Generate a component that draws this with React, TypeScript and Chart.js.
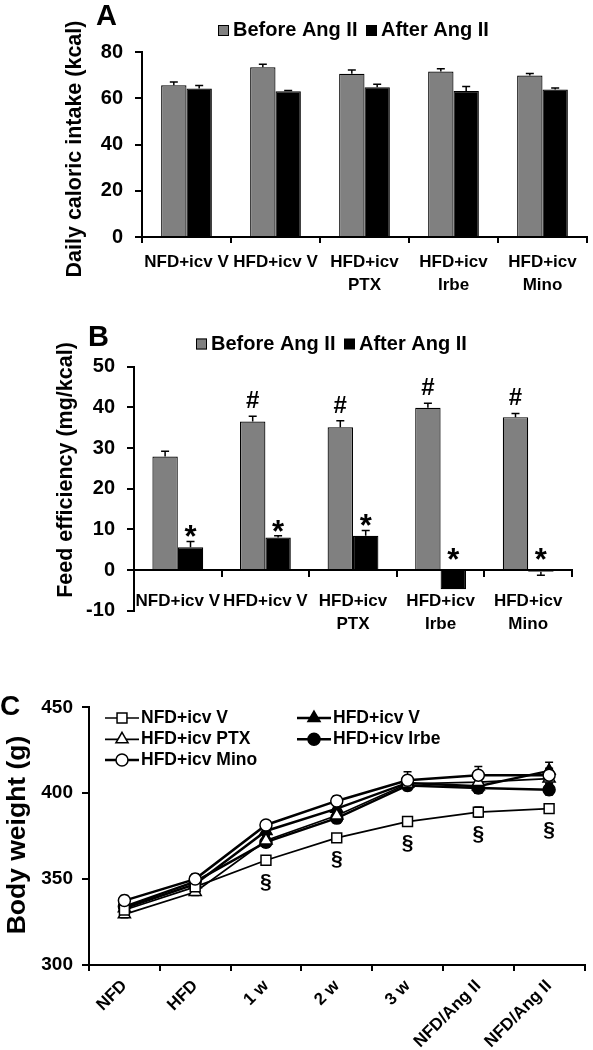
import React, { useEffect, useRef } from 'react';
import { Chart, registerables } from 'chart.js';

Chart.register(...registerables);

const FONT = "'Liberation Sans', Arial, Helvetica, sans-serif";
const GREY = '#808080';

// ---------- Panel A / B shared ----------
const groupLabels = ['NFD+icv V', 'HFD+icv V', ['HFD+icv', 'PTX'], ['HFD+icv', 'Irbe'], ['HFD+icv', 'Mino']];
const legendLabels = ['Before Ang II', 'After Ang II'];

// Panel A: daily caloric intake (kcal)
const intakeBefore = [65.6, 73.4, 70.6, 71.6, 69.8];
const intakeBeforeErr = [1.4, 1.3, 1.6, 1.2, 0.9];
const intakeAfter = [64.2, 63.0, 64.8, 63.1, 63.8];
const intakeAfterErr = [1.3, 0.4, 1.3, 2.0, 0.6];
const intakeTicks = [0, 20, 40, 60, 80];

// Panel B: feed efficiency (mg/kcal)
const effBefore = [27.9, 36.5, 35.1, 39.9, 37.6];
const effBeforeErr = [1.3, 1.3, 1.6, 1.1, 0.9];
const effAfter = [5.6, 8.0, 8.4, -4.7, -0.4];
const effAfterErr = [1.4, 0.4, 1.3, 0, 0.9];
const effBeforeMarks = ['', '#', '#', '#', '#'];
const effAfterMarks = ['*', '*', '*', '*', '*'];
const effTicks = [-10, 0, 10, 20, 30, 40, 50];

// Panel C: body weight (g)
const weekLabels = ['NFD', 'HFD', '1 w', '2 w', '3 w', 'NFD/Ang II', 'NFD/Ang II'];
const seriesNames = ['NFD+icv V', 'HFD+icv V', 'HFD+icv PTX', 'HFD+icv Irbe', 'HFD+icv Mino'];
const bwNfdV = [332, 345.5, 361, 374, 383.5, 389, 391];
const bwNfdVErr = [2, 2, 2, 2, 2, 3, 2.5];
const bwHfdV = [333, 347, 378, 391, 406, 404, 413];
const bwHfdVErr = [3, 3, 3, 3, 3, 4, 5];
const bwPtx = [329.5, 342.5, 372.5, 387, 405.5, 406.5, 408.5];
const bwPtxErr = [2, 2, 3, 3, 3, 3, 3];
const bwIrbe = [334, 348.5, 371.5, 385.5, 404.5, 403, 402];
const bwIrbeErr = [3, 3, 3, 3, 3, 3, 3];
const bwMino = [337.5, 350, 381.5, 395.5, 407.5, 410.5, 410.5];
const bwMinoErr = [3, 3, 2, 3, 5, 5, 4];
const bwSectionMarks = ['', '', '§', '§', '§', '§', '§'];
const bwTicks = [300, 350, 400, 450];

function drawErrorBars(chart: any, errs: number[][], both: boolean, cap: number) {
  const ctx = chart.ctx;
  const ys = chart.scales.y;
  ctx.save();
  ctx.strokeStyle = '#000';
  ctx.lineWidth = 1.5;
  chart.data.datasets.forEach((ds: any, i: number) => {
    const e = errs[i];
    if (!e) return;
    const meta = chart.getDatasetMeta(i);
    meta.data.forEach((el: any, j: number) => {
      const v = ds.data[j] as number;
      const err = e[j];
      if (!err) return;
      const ends = both ? [v + err, v - err] : [v >= 0 ? v + err : v - err];
      const py = ys.getPixelForValue(v);
      ends.forEach((end) => {
        const pe = ys.getPixelForValue(end);
        ctx.beginPath();
        ctx.moveTo(el.x, py);
        ctx.lineTo(el.x, pe);
        ctx.moveTo(el.x - cap / 2, pe);
        ctx.lineTo(el.x + cap / 2, pe);
        ctx.stroke();
      });
    });
  });
  ctx.restore();
}

function txt(ctx: any, s: string, x: number, y: number, size: number, align = 'left', baseline = 'middle', rot = 0) {
  ctx.save();
  ctx.font = `bold ${size}px ${FONT}`;
  ctx.fillStyle = '#000';
  ctx.textAlign = align;
  ctx.textBaseline = baseline;
  ctx.translate(x, y);
  if (rot) ctx.rotate(rot);
  ctx.fillText(s, 0, 0);
  ctx.restore();
}

function barLegend(ctx: any, x: number, y: number) {
  ctx.save();
  ctx.lineWidth = 1;
  ctx.strokeStyle = '#000';
  ctx.fillStyle = GREY;
  ctx.fillRect(x, y - 5.5, 11, 11);
  ctx.strokeRect(x + 0.5, y - 5, 10, 10);
  ctx.restore();
  txt(ctx, legendLabels[0], x + 15, y, 20);
  ctx.save();
  ctx.fillStyle = '#000';
  ctx.fillRect(x + 148, y - 5.5, 11, 11);
  ctx.restore();
  txt(ctx, legendLabels[1], x + 163, y, 20);
}

function axisCommon(tickFont: number, tickLength: number, padding: number) {
  return {
    grid: { drawOnChartArea: false, drawTicks: true, tickLength, color: '#000', lineWidth: 2 },
    border: { display: true, color: '#000', width: 2 },
    ticks: { color: '#000', font: { size: tickFont, weight: 'bold', family: FONT }, padding },
  };
}

function xCategory(tickFont: number, padding: number, height: number, extra: any = {}) {
  const base: any = axisCommon(tickFont, 6, padding);
  return {
    ...base,
    offset: true,
    grid: { ...base.grid, offset: true },
    ticks: { ...base.ticks, autoSkip: false, maxRotation: 0, font: { ...base.ticks.font, lineHeight: 1.35 } },
    afterFit: (s: any) => { s.height = height; },
    ...extra,
  };
}

function yLinear(min: number, max: number, step: number, ticks: number[], width: number, fontSize: number, padding: number) {
  const base: any = axisCommon(fontSize, 7, padding);
  return {
    ...base,
    min, max,
    ticks: { ...base.ticks, stepSize: step, callback: (v: number) => (ticks.includes(v) ? String(v) : '') },
    afterFit: (s: any) => { s.width = width; },
  };
}

function makeA(canvas: HTMLCanvasElement) {
  return new Chart(canvas, {
    type: 'bar',
    data: {
      labels: groupLabels as any,
      datasets: [
        { label: legendLabels[0], data: intakeBefore, backgroundColor: GREY, borderColor: '#000', borderWidth: 1.2, categoryPercentage: 0.57, barPercentage: 1 },
        { label: legendLabels[1], data: intakeAfter, backgroundColor: '#000', borderColor: '#000', borderWidth: 1.2, categoryPercentage: 0.57, barPercentage: 1 },
      ],
    },
    options: {
      responsive: false,
      animation: false,
      devicePixelRatio: 1,
      layout: { padding: { top: 52, right: 6, left: 0, bottom: 0 } },
      plugins: { legend: { display: false }, tooltip: { enabled: false } },
      scales: {
        x: xCategory(17, 8, 63) as any,
        y: yLinear(0, 80, 20, intakeTicks, 142, 20, 12) as any,
      },
    },
    plugins: [{
      id: 'decoA',
      afterDatasetsDraw(chart: any) {
        drawErrorBars(chart, [intakeBeforeErr, intakeAfterErr], false, 8);
      },
      afterDraw(chart: any) {
        const ctx = chart.ctx;
        txt(ctx, 'A', 96, 24.5, 29, 'left', 'alphabetic');
        barLegend(ctx, 218, 30.5);
        txt(ctx, 'Daily caloric intake (kcal)', 75, 149, 21.5, 'center', 'middle', -Math.PI / 2);
      },
    }],
  } as any);
}

function makeB(canvas: HTMLCanvasElement) {
  return new Chart(canvas, {
    type: 'bar',
    data: {
      labels: groupLabels as any,
      datasets: [
        { label: legendLabels[0], data: effBefore, backgroundColor: GREY, borderColor: '#000', borderWidth: 1.2, categoryPercentage: 0.58, barPercentage: 1 },
        { label: legendLabels[1], data: effAfter, backgroundColor: '#000', borderColor: '#000', borderWidth: 1.2, categoryPercentage: 0.58, barPercentage: 1 },
      ],
    },
    options: {
      responsive: false,
      animation: false,
      devicePixelRatio: 1,
      layout: { padding: { top: 66.7, right: 21, left: 0, bottom: 34.3 } },
      plugins: { legend: { display: false }, tooltip: { enabled: false } },
      scales: {
        x: xCategory(17, 14, 60, { position: { y: 0 } }) as any,
        y: yLinear(-10, 50, 10, effTicks, 134, 20, 12) as any,
      },
    },
    plugins: [{
      id: 'decoB',
      afterDatasetsDraw(chart: any) {
        drawErrorBars(chart, [effBeforeErr, effAfterErr], false, 8);
      },
      afterDraw(chart: any) {
        const ctx = chart.ctx;
        const ys = chart.scales.y;
        const m0 = chart.getDatasetMeta(0);
        const m1 = chart.getDatasetMeta(1);
        effBeforeMarks.forEach((m, j) => {
          if (!m) return;
          const top = ys.getPixelForValue(effBefore[j] + effBeforeErr[j]);
          txt(ctx, m, m0.data[j].x, top - 8, 24, 'center', 'alphabetic');
        });
        effAfterMarks.forEach((m, j) => {
          if (!m) return;
          const v = effAfter[j];
          const center = v > 0 ? ys.getPixelForValue(v + effAfterErr[j]) - 11.5 : ys.getPixelForValue(0) - 17;
          txt(ctx, m, m1.data[j].x, center + 0.56 * 31, 31, 'center', 'alphabetic');
        });
        txt(ctx, 'B', 88, 45.5, 29, 'left', 'alphabetic');
        barLegend(ctx, 196, 44);
        txt(ctx, 'Feed efficiency (mg/kcal)', 66, 170, 21.5, 'center', 'middle', -Math.PI / 2);
      },
    }],
  } as any);
}

const lineStyles = [
  { name: seriesNames[4], data: bwMino, err: bwMinoErr, style: 'circle', radius: 6, fill: '#fff', width: 2.5 },
  { name: seriesNames[0], data: bwNfdV, err: bwNfdVErr, style: 'rect', radius: 7, fill: '#fff', width: 1.7 },
  { name: seriesNames[2], data: bwPtx, err: bwPtxErr, style: 'triangle', radius: 7, fill: '#fff', width: 1.7 },
  { name: seriesNames[3], data: bwIrbe, err: bwIrbeErr, style: 'circle', radius: 6, fill: '#000', width: 2.5 },
  { name: seriesNames[1], data: bwHfdV, err: bwHfdVErr, style: 'triangle', radius: 7, fill: '#000', width: 2.5 },
];

function drawMarker(ctx: any, style: string, x: number, y: number, r: number, fill: string) {
  ctx.save();
  ctx.fillStyle = fill;
  ctx.strokeStyle = '#000';
  ctx.lineWidth = 1.5;
  ctx.beginPath();
  if (style === 'circle') {
    ctx.arc(x, y, r, 0, Math.PI * 2);
  } else if (style === 'rect') {
    const s = r * Math.SQRT1_2;
    ctx.rect(x - s, y - s, 2 * s, 2 * s);
  } else {
    ctx.moveTo(x, y - r);
    ctx.lineTo(x + r * Math.sin(2 * Math.PI / 3), y - r * Math.cos(2 * Math.PI / 3));
    ctx.lineTo(x + r * Math.sin(4 * Math.PI / 3), y - r * Math.cos(4 * Math.PI / 3));
    ctx.closePath();
  }
  ctx.fill();
  ctx.stroke();
  ctx.restore();
}

function makeC(canvas: HTMLCanvasElement) {
  const xBase: any = xCategory(17, 5, 85);
  return new Chart(canvas, {
    type: 'line',
    data: {
      labels: weekLabels,
      datasets: lineStyles.map((s) => ({
        label: s.name,
        data: s.data,
        borderColor: '#000',
        borderWidth: s.width,
        pointStyle: s.style,
        pointRadius: s.radius,
        pointBackgroundColor: s.fill,
        pointBorderColor: '#000',
        pointBorderWidth: 1.5,
        tension: 0,
        fill: false,
      })),
    },
    options: {
      responsive: false,
      animation: false,
      devicePixelRatio: 1,
      layout: { padding: { top: 62.3, right: 3, left: 0, bottom: 0 } },
      plugins: { legend: { display: false }, tooltip: { enabled: false } },
      scales: {
        x: { ...xBase, ticks: { ...xBase.ticks, minRotation: 45, maxRotation: 45, font: { size: 17, weight: 'bold', family: FONT } } },
        y: yLinear(300, 450, 50, bwTicks, 89, 19, 9) as any,
      },
    },
    plugins: [{
      id: 'decoC',
      beforeDatasetsDraw(chart: any) {
        drawErrorBars(chart, lineStyles.map((s) => s.err), true, 8);
      },
      afterDraw(chart: any) {
        const ctx = chart.ctx;
        const ys = chart.scales.y;
        const metaNfd = chart.getDatasetMeta(1);
        bwSectionMarks.forEach((m, j) => {
          if (!m) return;
          const py = ys.getPixelForValue(bwNfdV[j]);
          txt(ctx, m, metaNfd.data[j].x, py + 22 + 5.5, 21, 'center', 'alphabetic');
        });
        txt(ctx, 'C', 0, 69.5, 28, 'left', 'alphabetic');
        txt(ctx, 'Body weight (g)', 18, 190, 26.5, 'center', 'middle', -Math.PI / 2);
        // legend (two columns)
        const byName: any = {};
        lineStyles.forEach((s) => { byName[s.name] = s; });
        const items = [
          { n: seriesNames[0], x: 105, y: 73 },
          { n: seriesNames[2], x: 105, y: 94.3 },
          { n: seriesNames[4], x: 105, y: 115 },
          { n: seriesNames[1], x: 297, y: 73 },
          { n: seriesNames[3], x: 297, y: 94.3 },
        ];
        items.forEach((it) => {
          const s = byName[it.n];
          ctx.save();
          ctx.strokeStyle = '#000';
          ctx.lineWidth = s.width;
          ctx.beginPath();
          ctx.moveTo(it.x, it.y);
          ctx.lineTo(it.x + 34, it.y);
          ctx.stroke();
          ctx.restore();
          drawMarker(ctx, s.style, it.x + 17, it.y, s.radius, s.fill);
          txt(ctx, it.n, it.x + 36, it.y, 17.5);
        });
      },
    }],
  } as any);
}

export default function App() {
  const refA = useRef<HTMLCanvasElement>(null);
  const refB = useRef<HTMLCanvasElement>(null);
  const refC = useRef<HTMLCanvasElement>(null);

  useEffect(() => {
    Chart.defaults.font.family = FONT;
    const a = makeA(refA.current!);
    const b = makeB(refB.current!);
    const c = makeC(refC.current!);
    return () => { a.destroy(); b.destroy(); c.destroy(); };
  }, []);

  const pos = (top: number, h: number): React.CSSProperties => ({ position: 'absolute', left: 0, top, width: 593, height: h, display: 'block' });

  return (
    <div style={{ position: 'absolute', left: 0, top: 0, width: 593, height: 1050, background: '#fff', overflow: 'hidden' }}>
      <canvas ref={refA} width={593} height={300} style={pos(0, 300)} />
      <canvas ref={refB} width={593} height={345} style={pos(300, 345)} />
      <canvas ref={refC} width={593} height={405} style={pos(645, 405)} />
    </div>
  );
}
